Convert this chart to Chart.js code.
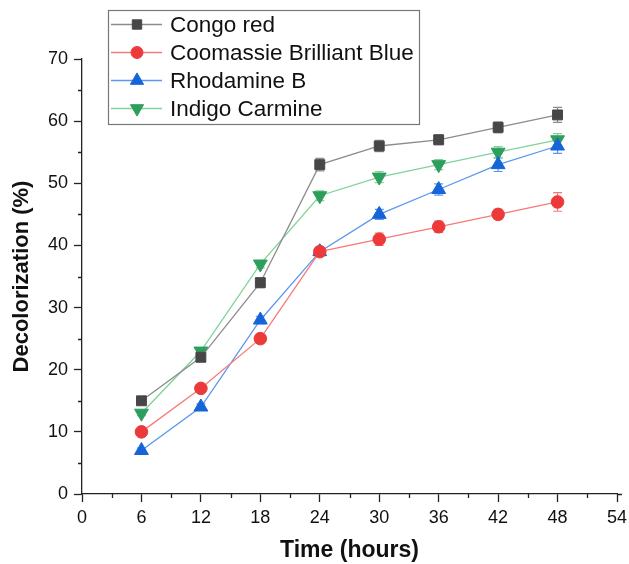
<!DOCTYPE html>
<html><head><meta charset="utf-8">
<script src="https://cdn.jsdelivr.net/npm/chart.js@4/dist/chart.umd.min.js"></script>
<style>html,body{margin:0;padding:0;background:#fff}#wrap{width:629px;height:564px}</style>
</head><body><div id="wrap"><canvas id="c" width="629" height="564"></canvas></div>
<script>
const hours = [6, 12, 18, 24, 30, 36, 42, 48];
const congoRed = [15, 22, 34, 53, 56, 57, 59, 61];
const congoRedErr = [0.6, 0.6, 0.8, 1.0, 0.9, 0.8, 0.9, 1.2];
const coomassie = [10, 17, 25, 39, 41, 43, 45, 47];
const coomassieErr = [0.5, 0.5, 0.6, 0.7, 1.0, 0.9, 0.8, 1.5];
const rhodamine = [7, 14, 28, 39, 45, 49, 53, 56];
const rhodamineErr = [0.4, 0.5, 0.6, 0.7, 0.8, 0.9, 1.1, 1.2];
const indigo = [13, 23, 37, 48, 51, 53, 55, 57];
const indigoErr = [0.4, 0.5, 0.6, 0.8, 0.9, 0.8, 0.9, 1.0];
const seriesNames = ['Congo red', 'Coomassie Brilliant Blue', 'Rhodamine B', 'Indigo Carmine'];
const xTicks = [0, 6, 12, 18, 24, 30, 36, 42, 48, 54];
const yTicks = [0, 10, 20, 30, 40, 50, 60, 70];

const FONT = "'Liberation Sans', Arial, sans-serif";
const pts = v => hours.map((h, i) => ({x: h, y: v[i]}));

function ds(label, vals, err, lineCol, markCol, style, radius, rot) {
  return {label, data: pts(vals), err, borderColor: lineCol, backgroundColor: markCol,
    pointBorderColor: markCol, pointBackgroundColor: markCol, pointStyle: style,
    pointRadius: radius, pointHoverRadius: radius, pointRotation: rot || 0, borderWidth: 1.3,
    pointBorderWidth: 1, errColor: lineCol, tension: 0};
}

const datasets = [
  ds(seriesNames[0], congoRed, congoRedErr, '#8c8c8c', '#474747', 'rect', 7),
  ds(seriesNames[1], coomassie, coomassieErr, '#f77a7a', '#ec3a3a', 'circle', 6.3),
  ds(seriesNames[2], rhodamine, rhodamineErr, '#5b97ee', '#1565d8', 'triangle', 8),
  ds(seriesNames[3], indigo, indigoErr, '#80d39b', '#2e9e5c', 'triangle', 8, 180),
];

const errorBars = {
  id: 'errorBars',
  beforeDatasetsDraw(chart) {
    const ctx = chart.ctx, xs = chart.scales.x, ys = chart.scales.y;
    ctx.save();
    chart.data.datasets.forEach(d => {
      ctx.strokeStyle = d.errColor; ctx.lineWidth = 1.2;
      d.data.forEach((p, i) => {
        const x = xs.getPixelForValue(p.x);
        const y1 = ys.getPixelForValue(p.y + d.err[i]);
        const y2 = ys.getPixelForValue(p.y - d.err[i]);
        ctx.beginPath();
        ctx.moveTo(x, y1); ctx.lineTo(x, y2);
        ctx.moveTo(x - 4.5, y1); ctx.lineTo(x + 4.5, y1);
        ctx.moveTo(x - 4.5, y2); ctx.lineTo(x + 4.5, y2);
        ctx.stroke();
      });
    });
    ctx.restore();
  }
};

const minorTicks = {
  id: 'minorTicks',
  afterDraw(chart) {
    const ctx = chart.ctx, xs = chart.scales.x, ys = chart.scales.y;
    const area = chart.chartArea;
    ctx.save();
    ctx.strokeStyle = '#222'; ctx.lineWidth = 1.3;
    ctx.beginPath();
    for (let v = 3; v < 54; v += 6) {
      const x = Math.round(xs.getPixelForValue(v)) + 0.5;
      ctx.moveTo(x, area.bottom); ctx.lineTo(x, area.bottom + 4);
    }
    for (let v = 5; v < 70; v += 10) {
      const y = Math.round(ys.getPixelForValue(v)) + 0.5;
      ctx.moveTo(area.left, y); ctx.lineTo(area.left - 4, y);
    }
    ctx.moveTo(area.right, area.bottom + 0.5); ctx.lineTo(area.right + 5, area.bottom + 0.5);
    ctx.stroke();
    ctx.restore();
  }
};

const customLegend = {
  id: 'customLegend',
  afterDraw(chart) {
    const ctx = chart.ctx;
    const bx = 108.5, by = 10.5, bw = 311, bh = 114;
    ctx.save();
    ctx.strokeStyle = '#777'; ctx.lineWidth = 1.2;
    ctx.strokeRect(bx, by, bw, bh);
    ctx.font = '22.5px ' + FONT; ctx.textBaseline = 'middle';
    chart.data.datasets.forEach((d, i) => {
      const y = 24.5 + i * 28;
      ctx.strokeStyle = d.borderColor; ctx.lineWidth = 1.3;
      ctx.beginPath(); ctx.moveTo(111, y); ctx.lineTo(162, y); ctx.stroke();
      ctx.fillStyle = d.backgroundColor; ctx.strokeStyle = d.backgroundColor; ctx.lineWidth = 1;
      Chart.helpers.drawPoint(ctx, {pointStyle: d.pointStyle, radius: d.pointRadius * 0.95,
        borderWidth: 1, rotation: d.pointRotation}, 137, y);
      ctx.fillStyle = '#111';
      ctx.fillText(d.label, 170, y + 1);
    });
    ctx.restore();
  }
};

new Chart(document.getElementById('c'), {
  type: 'line',
  data: {datasets},
  options: {
    responsive: false, animation: false,
    layout: {padding: {top: 59, right: 12, left: 1, bottom: 0}},
    plugins: {legend: {display: false}, tooltip: {enabled: false}},
    scales: {
      x: {
        type: 'linear', min: 0, max: 54,
        afterFit: s => { s.height = 70; s.paddingRight = 0; s.paddingLeft = 0; },
        afterBuildTicks: s => { s.ticks = xTicks.map(v => ({value: v})); },
        grid: {drawOnChartArea: false, tickLength: 8, color: '#222', tickWidth: 1.3},
        border: {display: true, color: '#222', width: 1.3},
        ticks: {font: {family: FONT, size: 18}, color: '#111', padding: 5, maxRotation: 0},
        title: {display: true, text: 'Time (hours)', font: {family: FONT, size: 23, weight: 'bold'}, color: '#111', padding: {top: 0, bottom: 0}}
      },
      y: {
        min: 0, max: 70,
        afterFit: s => { s.width = 81; s.paddingTop = 0; s.paddingBottom = 0; },
        afterBuildTicks: s => { s.ticks = yTicks.map(v => ({value: v})); },
        grid: {drawOnChartArea: false, tickLength: 8, color: '#222', tickWidth: 1.3},
        border: {display: true, color: '#222', width: 1.3},
        ticks: {font: {family: FONT, size: 18}, color: '#111', padding: 6},
        title: {display: true, text: 'Decolorization (%)', font: {family: FONT, size: 22, weight: 'bold'}, color: '#111', padding: {top: 8, bottom: 0}}
      }
    }
  },
  plugins: [errorBars, minorTicks, customLegend]
});
</script></body></html>
